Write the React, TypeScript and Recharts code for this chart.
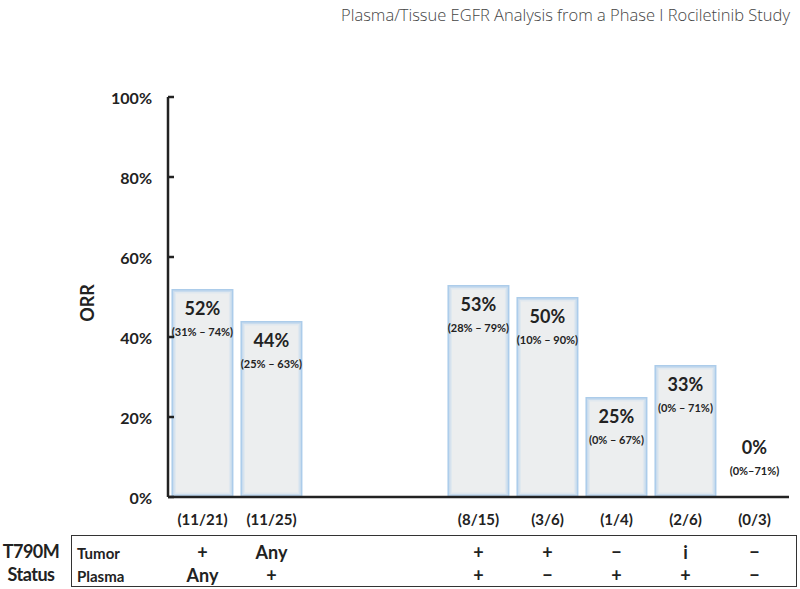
import React from 'react';
import { BarChart, Bar, XAxis, YAxis, LabelList } from 'recharts';

const groups = ['g1', 'g2', 'g3', 'g4', 'g5', 'g6', 'g7', 'g8', 'g9'];
const orr = [52, 44, null, null, 53, 50, 25, 33, 0];
const ciLabels = ['(31% – 74%)', '(25% – 63%)', '', '', '(28% – 79%)', '(10% – 90%)', '(0% – 67%)', '(0% – 71%)', '(0%–71%)'];
const counts = ['(11/21)', '(11/25)', '', '', '(8/15)', '(3/6)', '(1/4)', '(2/6)', '(0/3)'];
const tumor = ['+', 'Any', '', '', '+', '+', '−', 'i', '−'];
const plasma = ['Any', '+', '', '', '+', '−', '+', '+', '−'];
const yTicks = [0, 20, 40, 60, 80, 100];

const data = groups.map((g, i) => ({ group: g, orr: orr[i], ci: ciLabels[i] }));

const FONT = 'Lato, "Open Sans", sans-serif';

const GlowBar = (props: any) => {
  const { x, y, width, height } = props;
  if (!height || height <= 0) return null;
  return (
    <g>
      <rect x={x} y={y} width={width} height={height} fill="#acccea" />
      <rect x={x + 1.5} y={y + 1.5} width={width - 3} height={height - 3} fill="#c9dcee" />
      <rect x={x + 3} y={y + 3} width={width - 6} height={height - 6} fill="#e0e8ef" />
      <rect x={x + 4.5} y={y + 4.5} width={width - 9} height={height - 9} fill="#eceeef" />
    </g>
  );
};

// value label (e.g. 52%) just inside the bar top; above the baseline for empty bars
const PctLabel = (props: any) => {
  const { x, y, width, height, value } = props;
  if (value === null || value === undefined) return null;
  const top = height > 0 ? y : y - 69;
  return (
    <text x={x + width / 2} y={top + 19} textAnchor="middle" dominantBaseline="central"
      fontFamily={FONT} fontWeight={700} fontSize={18} fill="#222">
      {value}%
    </text>
  );
};

const CiLabel = (props: any) => {
  const { x, y, width, height, value } = props;
  if (!value) return null;
  const top = height > 0 ? y : y - 69;
  return (
    <text x={x + width / 2} y={top + 42} textAnchor="middle" dominantBaseline="central"
      fontFamily={FONT} fontWeight={700} fontSize={11} fill="#222">
      {value}
    </text>
  );
};

const YTick = (props: any) => {
  const { x, y, payload } = props;
  return (
    <g>
      <line x1={x} x2={x + 6} y1={y} y2={y} stroke="#222" strokeWidth={2.5} />
      <text x={x - 16} y={y} textAnchor="end" dominantBaseline="central" fontFamily={FONT} fontWeight={700} fontSize={16} fill="#222">
        {payload.value}%
      </text>
    </g>
  );
};

const XTick = (props: any) => {
  const { x, y, payload } = props;
  const i = payload.index;
  return (
    <g fontFamily={FONT} fontWeight={700} fill="#222" textAnchor="middle">
      <text x={x} y={y + 22} dominantBaseline="central" fontSize={15}>{counts[i]}</text>
      <text x={x} y={y + 55} dominantBaseline="central" fontSize={18}>{tumor[i]}</text>
      <text x={x} y={y + 78} dominantBaseline="central" fontSize={18}>{plasma[i]}</text>
    </g>
  );
};

export default function App() {
  return (
    <div style={{ position: 'absolute', left: 0, top: 0, width: 800, height: 589, background: '#fff', overflow: 'hidden' }}>
      <div
        style={{
          position: 'absolute',
          right: 10,
          top: 3,
          fontFamily: '"Open Sans", sans-serif',
          fontWeight: 300,
          fontSize: 16.5,
          color: '#444',
          whiteSpace: 'nowrap',
        }}
      >
        Plasma/Tissue EGFR Analysis from a Phase I Rociletinib Study
      </div>
      <div
        style={{
          position: 'absolute',
          left: 71,
          top: 535,
          width: 724,
          height: 50,
          border: '1.5px solid #333',
        }}
      />
      <div style={{ position: 'absolute', left: 0, top: 540, width: 62, textAlign: 'center', fontFamily: FONT, fontWeight: 700, fontSize: 18, lineHeight: '23px', color: '#222', letterSpacing: -0.5 }}>
        T790M
        <br />
        Status
      </div>
      <div style={{ position: 'absolute', left: 77, top: 542, fontFamily: FONT, fontWeight: 700, fontSize: 15, lineHeight: '23px', color: '#222' }}>
        Tumor
        <br />
        Plasma
      </div>
      <div style={{ position: 'absolute', left: 0, top: 0 }}>
        <BarChart
          width={800}
          height={589}
          data={data}
          margin={{ top: 97, right: 11, bottom: 0, left: 0 }}
          barCategoryGap="5%"
        >
          <XAxis
            dataKey="group"
            height={92}
            axisLine={{ stroke: '#222', strokeWidth: 2.5 }}
            tickLine={false}
            tickSize={0}
            tickMargin={0}
            interval={0}
            tick={<XTick />}
          />
          <YAxis
            width={168}
            domain={[0, 100]}
            ticks={yTicks}
            axisLine={{ stroke: '#222', strokeWidth: 2.5 }}
            tickLine={false}
            tickSize={0}
            tickMargin={0}
            tick={<YTick />}
            label={{
              value: 'ORR',
              angle: -90,
              position: 'center',
              dx: 4,
              dy: 6,
              style: { fontFamily: FONT, fontWeight: 700, fontSize: 18, fill: '#222' },
            }}
          />
          <Bar dataKey="orr" shape={<GlowBar />} isAnimationActive={false}>
            <LabelList dataKey="orr" content={<PctLabel />} />
            <LabelList dataKey="ci" content={<CiLabel />} />
          </Bar>
        </BarChart>
      </div>
    </div>
  );
}
